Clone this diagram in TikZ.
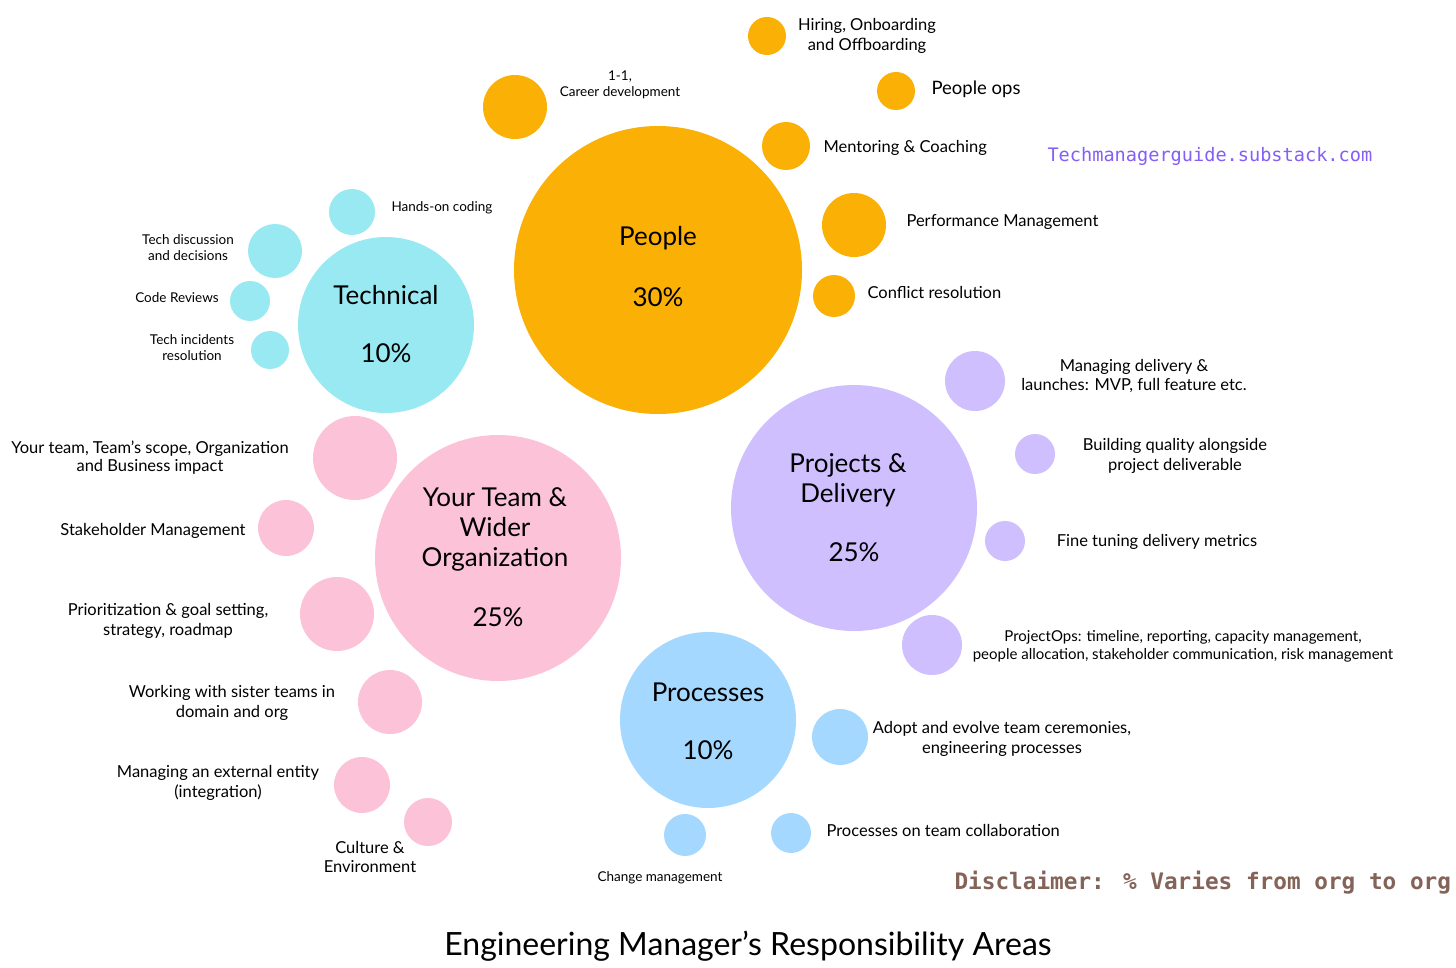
\documentclass[tikz,border=0pt]{standalone}
\usepackage{fontspec}
\setmainfont{Lato}
\newfontfamily\monofont{DejaVu Sans Mono}
\usepackage{tikz}

\definecolor{peopleorange}{HTML}{FAB005}
\definecolor{techcyan}{HTML}{99E9F2}
\definecolor{orgpink}{HTML}{FCC2D7}
\definecolor{projviolet}{HTML}{D0BFFF}
\definecolor{procblue}{HTML}{A5D8FF}
\definecolor{linkviolet}{HTML}{845EF7}
\definecolor{notebrown}{HTML}{846358}

\tikzset{
    blob/.style={circle, inner sep=0pt},
    area/.style={align=center, font=\fontsize{26}{30}\selectfont},
    lbl/.style={align=center, font=\fontsize{16.5}{19.5}\selectfont},
    tinylbl/.style={align=center, font=\fontsize{13.5}{16}\selectfont}
}

\begin{document}
\begin{tikzpicture}[x=1pt, y=-1pt]
    % Page frame
    \useasboundingbox (0,0) rectangle (1456,968);

    % Draw the main areas
    \node[blob, fill=peopleorange, minimum size=288pt] (people) at (658,270) {};
    \node[blob, fill=techcyan, minimum size=176pt] (tech) at (386,325) {};
    \node[blob, fill=orgpink, minimum size=246pt] (org) at (498,558) {};
    \node[blob, fill=projviolet, minimum size=246pt] (proj) at (854,508) {};
    \node[blob, fill=procblue, minimum size=176pt] (proc) at (708,720) {};

    % Small bubbles round each area
    \foreach \nm/\x/\y/\r in {hire/767/36/19, oneone/515/107/32, ops/896/91/19,
        mentor/786/146/24, perf/854/225/32, conflict/834/296/21} {
        \node[blob, fill=peopleorange, minimum size=2*\r] (\nm) at (\x,\y) {};
    }
    \foreach \nm/\x/\y/\r in {coding/352/212/23, discuss/275/251/27,
        review/250/301/20, incident/270/350/19} {
        \node[blob, fill=techcyan, minimum size=2*\r] (\nm) at (\x,\y) {};
    }
    \foreach \nm/\x/\y/\r in {scope/355/458/42, stake/286/528/28, prio/337/614/37,
        sister/390/702/32, external/362/785/28, culture/428/822/24} {
        \node[blob, fill=orgpink, minimum size=2*\r] (\nm) at (\x,\y) {};
    }
    \foreach \nm/\x/\y/\r in {launch/975/381/30, quality/1035/454/20,
        metrics/1005/541/20, projops/932/645/30} {
        \node[blob, fill=projviolet, minimum size=2*\r] (\nm) at (\x,\y) {};
    }
    \foreach \nm/\x/\y/\r in {ceremony/840/737/28, collab/791/833/20, change/685/835/21} {
        \node[blob, fill=procblue, minimum size=2*\r] (\nm) at (\x,\y) {};
    }

    % Area titles
    \node[area] (peoplett) at (658,238) {People};
    \node[area] (peoplepc) at (658,297) {30\%};
    \node[area] (techtt) at (386,295) {Technical};
    \node[area] (techpc) at (386,353) {10\%};
    \node[area] (orgtt) at (495,529) {Your Team \&\\ Wider\\ Organization};
    \node[area] (orgpc) at (498,617) {25\%};
    \node[area] (projtt) at (848,480) {Projects \&\\ Delivery};
    \node[area] (projpc) at (854,552) {25\%};
    \node[area] (proctt) at (708,692) {Processes};
    \node[area] (procpc) at (708,750) {10\%};

    % People labels
    \node[lbl] (hiretx) at (867,36) {Hiring, Onboarding\\and Offboarding};
    \node[tinylbl] (oneonetx) at (620,85) {1-1,\\Career development};
    \node[lbl, anchor=west, font=\fontsize{18.5}{22}\selectfont] (opstx) at (928,89) {People ops};
    \node[lbl, anchor=west] (mentortx) at (820,148) {Mentoring \& Coaching};
    \node[lbl, anchor=west] (perftx) at (903,222) {Performance Management};
    \node[lbl, anchor=west] (conflicttx) at (864,292) {Conflict resolution};

    % Technical labels
    \node[tinylbl, anchor=west] (codingtx) at (388,208) {Hands-on coding};
    \node[tinylbl] (discusstx) at (188,248) {Tech discussion\\and decisions};
    \node[tinylbl] (reviewtx) at (177,298) {Code Reviews};
    \node[tinylbl] (incidenttx) at (192,348) {Tech incidents\\resolution};

    % Organization labels
    \node[lbl, font=\fontsize{16.5}{18}\selectfont] (scopetx) at (150,458) {Your team, Team's scope, Organization\\and Business impact};
    \node[lbl] (staketx) at (153,531) {Stakeholder Management};
    \node[lbl] (priotx) at (168,621) {Prioritization \& goal setting,\\strategy, roadmap};
    \node[lbl] (sistertx) at (232,703) {Working with sister teams in\\domain and org};
    \node[lbl] (externaltx) at (218,783) {Managing an external entity\\(integration)};
    \node[lbl] (culturetx) at (370,857) {Culture \&\\Environment};

    % Projects labels
    \node[lbl] (launchtx) at (1134,376) {Managing delivery \&\\launches: MVP, full feature etc.};
    \node[lbl] (qualitytx) at (1175,456) {Building quality alongside\\project deliverable};
    \node[lbl] (metricstx) at (1157,542) {Fine tuning delivery metrics};
    \node[lbl, font=\fontsize{15}{18}\selectfont] (projopstx) at (1183,646) {ProjectOps: timeline, reporting, capacity management,\\people allocation, stakeholder communication, risk management};

    % Processes labels
    \node[lbl] (ceremonytx) at (1002,739) {Adopt and evolve team ceremonies,\\engineering processes};
    \node[lbl, anchor=west] (collabtx) at (823,830) {Processes on team collaboration};
    \node[tinylbl] (changetx) at (660,878) {Change management};

    % Side notes and title
    \node[anchor=west, text=linkviolet, font=\monofont\fontsize{18.6}{22}\selectfont] (site) at (1044,156) {Techmanagerguide.substack.com};
    \node[anchor=west, text=notebrown, font=\monofont\bfseries\fontsize{22.7}{26}\selectfont] (note) at (951,883) {Disclaimer: \% Varies from org to org};
    \node[font=\fontsize{32}{38}\selectfont] (title) at (748,946) {Engineering Manager's Responsibility Areas};
\end{tikzpicture}
\end{document}
